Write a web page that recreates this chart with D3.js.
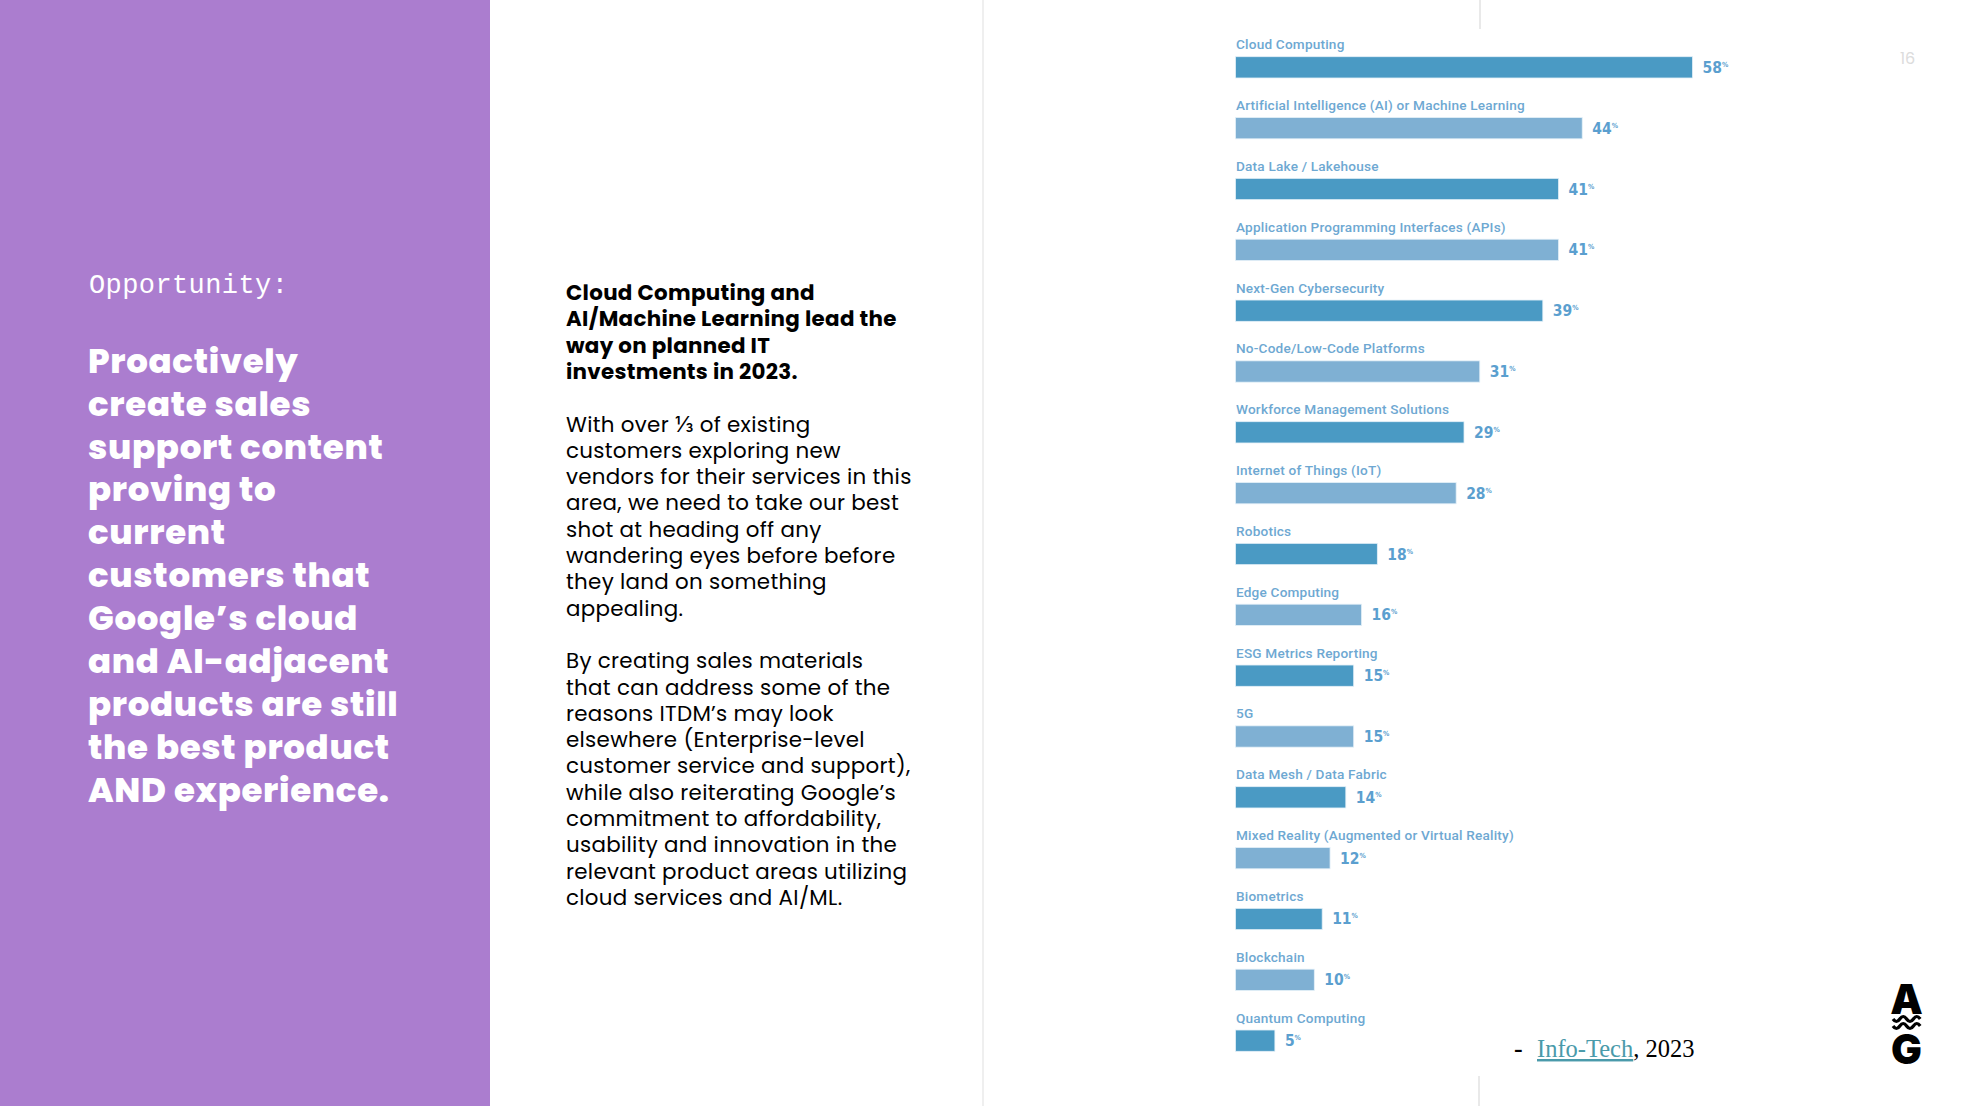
<!DOCTYPE html>
<html>
<head>
<meta charset="utf-8">
<script src="https://cdn.jsdelivr.net/npm/d3@7"></script>
<style>
  html, body { margin: 0; padding: 0; background: #fff; }
  svg { display: block; }
</style>
</head>
<body>
<div id="slide"></div>
<script>
// chart data
const categories = [
  "Cloud Computing",
  "Artificial Intelligence (AI) or Machine Learning",
  "Data Lake / Lakehouse",
  "Application Programming Interfaces (APIs)",
  "Next-Gen Cybersecurity",
  "No-Code/Low-Code Platforms",
  "Workforce Management Solutions",
  "Internet of Things (IoT)",
  "Robotics",
  "Edge Computing",
  "ESG Metrics Reporting",
  "5G",
  "Data Mesh / Data Fabric",
  "Mixed Reality (Augmented or Virtual Reality)",
  "Biometrics",
  "Blockchain",
  "Quantum Computing"
];
const values = [58, 44, 41, 41, 39, 31, 29, 28, 18, 16, 15, 15, 14, 12, 11, 10, 5];

// slide text
const eyebrow = "Opportunity:";
const headline = ["Proactively", "create sales", "support content", "proving to", "current",
  "customers that", "Google’s cloud", "and AI-adjacent", "products are still",
  "the best product", "AND experience."];
const titleLines = ["Cloud Computing and", "AI/Machine Learning lead the", "way on planned IT",
  "investments in 2023."];
const bodyLines = ["", "With over ⅓ of existing", "customers exploring new",
  "vendors for their services in this", "area, we need to take our best",
  "shot at heading off any", "wandering eyes before before", "they land on something",
  "appealing.", "", "By creating sales materials", "that can address some of the",
  "reasons ITDM’s may look", "elsewhere (Enterprise-level", "customer service and support),",
  "while also reiterating Google’s", "commitment to affordability,", "usability and innovation in the",
  "relevant product areas utilizing", "cloud services and AI/ML."];

const W = 1968, H = 1106;
const sans = "Poppins, Inter, 'Open Sans', sans-serif";

const svg = d3.select("#slide").append("svg")
  .attr("width", W).attr("height", H);

// left purple panel
svg.append("rect").attr("x", 0).attr("y", 0).attr("width", 490).attr("height", H)
  .attr("fill", "#ab7dcf");

svg.append("text").attr("x", 89).attr("y", 293)
  .attr("fill", "#fff").attr("font-family", "'Liberation Mono', 'DejaVu Sans Mono', monospace")
  .attr("font-size", 27).attr("letter-spacing", 0.4)
  .text(eyebrow);

svg.append("g").selectAll("text").data(headline).join("text")
  .attr("x", 88).attr("y", (d, i) => 372.7 + i * 42.93)
  .attr("fill", "#fff").attr("font-family", sans).attr("font-weight", 800)
  .attr("font-size", 34).attr("letter-spacing", 0.7)
  .text(d => d);

// middle column
svg.append("line").attr("x1", 983).attr("x2", 983).attr("y1", 0).attr("y2", H)
  .attr("stroke", "#efefef").attr("stroke-width", 2);

const midLines = titleLines.map(t => ({ t, bold: true }))
  .concat(bodyLines.map(t => ({ t, bold: false })));
svg.append("g").selectAll("text").data(midLines).join("text")
  .attr("x", 566).attr("y", (d, i) => 300 + i * 26.3)
  .attr("fill", "#000").attr("font-family", sans)
  .attr("font-weight", d => d.bold ? 700 : 400)
  .attr("font-size", 21.4).attr("letter-spacing", 0.3)
  .text(d => d.t);

// bar chart
const x = d3.scaleLinear().domain([0, 100]).range([1235.5, 1235.5 + 788]);
const y = d3.scaleBand().domain(categories).range([56.7, 1051.3])
  .paddingInner(0.65).paddingOuter(0);

const rows = svg.append("g").selectAll("g")
  .data(categories.map((c, i) => ({ c, v: values[i], i })))
  .join("g");

rows.append("text")
  .attr("x", x(0) + 0.5).attr("y", d => y(d.c) - 7.5)
  .attr("fill", "#6ea8d2").attr("font-family", "Roboto, sans-serif")
  .attr("font-weight", 500).attr("font-size", 13.6).attr("letter-spacing", 0.2)
  .text(d => d.c);

rows.append("rect")
  .attr("x", x(0)).attr("y", d => y(d.c))
  .attr("width", d => x(d.v) - x(0)).attr("height", y.bandwidth())
  .attr("fill", d => d.i % 2 === 0 ? "#4a9ac4" : "#7fb0d3")
  .attr("stroke", "#e4f0f8").attr("stroke-width", 0.8);

const vl = rows.append("text")
  .attr("x", d => x(d.v) + 10).attr("y", d => y(d.c) + y.bandwidth() / 2 + 5.5)
  .attr("fill", "#5b9fcf").attr("font-family", "'Liberation Sans Narrow', 'DejaVu Sans Condensed', Roboto, sans-serif")
  .attr("font-weight", 700).attr("font-size", 15.5);
vl.append("tspan").text(d => d.v);
vl.append("tspan").attr("font-size", 7).attr("dy", -6).text("%");

// grey tick marks top and bottom
svg.append("line").attr("x1", 1480).attr("x2", 1480).attr("y1", 0).attr("y2", 29)
  .attr("stroke", "#e2e2e2").attr("stroke-width", 1.5);
svg.append("line").attr("x1", 1479).attr("x2", 1479).attr("y1", 1076).attr("y2", H)
  .attr("stroke", "#e2e2e2").attr("stroke-width", 1.5);

// page number
svg.append("text").attr("x", 1900).attr("y", 64)
  .attr("fill", "#dcdcdc").attr("font-family", sans).attr("font-size", 16)
  .text("16");

// source
const serif = "'Liberation Serif', 'DejaVu Serif', serif";
svg.append("text").attr("x", 1514).attr("y", 1057)
  .attr("font-family", serif).attr("font-size", 26).attr("font-weight", 700)
  .attr("fill", "#000").text("-");
const src = svg.append("text").attr("x", 1537).attr("y", 1057)
  .attr("font-family", serif).attr("font-size", 24.5);
src.append("tspan").attr("fill", "#4a9aaa").attr("text-decoration", "underline").text("Info-Tech");
src.append("tspan").attr("fill", "#000").text(", 2023");

// logo
const logo = svg.append("g").attr("fill", "#000").attr("font-family", "Inter, Roboto, sans-serif")
  .attr("font-weight", 900).attr("font-size", 41).attr("text-anchor", "middle");
logo.append("text").attr("x", 1906.5).attr("y", 1013.5).text("A");
logo.append("text").attr("x", 1906.5).attr("y", 1063.5).text("G");
const wave = "M1893,1019 q3.4,5 6.8,0 t6.8,0 t6.8,0 t6.8,0";
logo.append("path").attr("d", wave).attr("fill", "none").attr("stroke", "#000").attr("stroke-width", 3.2);
logo.append("path").attr("d", wave).attr("transform", "translate(0,7)")
  .attr("fill", "none").attr("stroke", "#000").attr("stroke-width", 3.2);
</script>
</body>
</html>
